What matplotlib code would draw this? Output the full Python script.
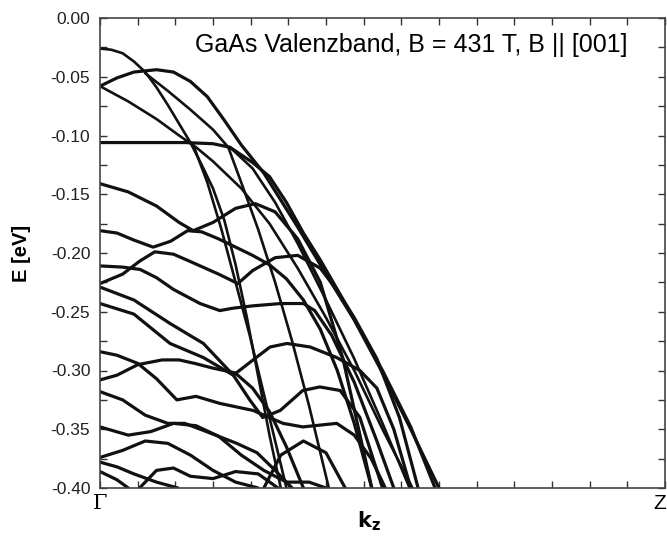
import matplotlib
matplotlib.use("Agg")
import matplotlib.pyplot as plt
from matplotlib.ticker import MultipleLocator

# ---- data: k_z (Gamma=0 ... Z=1) and energies in eV ----
band_a_k = [0, 0.02, 0.04, 0.06, 0.08, 0.10, 0.12, 0.14, 0.16, 0.18, 0.20, 0.22, 0.24, 0.26, 0.28, 0.30, 0.32]
band_a_e = [-0.026, -0.027, -0.030, -0.037, -0.046, -0.059, -0.074, -0.090, -0.106, -0.125, -0.145, -0.172, -0.210, -0.255, -0.305, -0.355, -0.40]

band_hump_k = [0, 0.03, 0.06, 0.10, 0.13, 0.16, 0.19, 0.22, 0.25, 0.29, 0.35, 0.40, 0.45, 0.50, 0.55, 0.60]
band_hump_e = [-0.058, -0.051, -0.046, -0.044, -0.046, -0.054, -0.067, -0.087, -0.108, -0.132, -0.178, -0.218, -0.257, -0.302, -0.350, -0.40]

band_flat_k = [0, 0.05, 0.10, 0.15, 0.20, 0.23, 0.27, 0.30, 0.33, 0.36, 0.39, 0.42, 0.46, 0.50, 0.55, 0.593]
band_flat_e = [-0.106, -0.106, -0.106, -0.106, -0.107, -0.110, -0.123, -0.135, -0.157, -0.183, -0.206, -0.231, -0.265, -0.300, -0.348, -0.40]

band_b2_k = [0, 0.05, 0.10, 0.14, 0.17, 0.20, 0.25, 0.30, 0.35, 0.40, 0.45, 0.50, 0.553]
band_b2_e = [-0.058, -0.071, -0.086, -0.100, -0.110, -0.122, -0.145, -0.175, -0.213, -0.255, -0.300, -0.350, -0.40]

band_s2_k = [0.08, 0.12, 0.16, 0.20, 0.227, 0.25, 0.28, 0.31, 0.34, 0.37, 0.405]
band_s2_e = [-0.047, -0.062, -0.078, -0.095, -0.110, -0.140, -0.180, -0.225, -0.275, -0.330, -0.40]

band_s3_k = [0.23, 0.27, 0.31, 0.35, 0.40, 0.45, 0.50, 0.548]
band_s3_e = [-0.110, -0.128, -0.157, -0.192, -0.240, -0.290, -0.345, -0.40]

band_141_k = [0, 0.05, 0.10, 0.14, 0.165, 0.20, 0.24, 0.275, 0.31, 0.35, 0.39, 0.43, 0.481]
band_141_e = [-0.141, -0.148, -0.160, -0.174, -0.181, -0.174, -0.162, -0.158, -0.165, -0.188, -0.225, -0.290, -0.40]

band_181_k = [0, 0.03, 0.06, 0.094, 0.125, 0.155, 0.18, 0.21, 0.24, 0.27, 0.30, 0.33, 0.36, 0.39, 0.42, 0.45, 0.481]
band_181_e = [-0.181, -0.183, -0.189, -0.195, -0.190, -0.181, -0.182, -0.188, -0.195, -0.202, -0.210, -0.222, -0.240, -0.265, -0.300, -0.345, -0.40]

band_226_k = [0, 0.04, 0.07, 0.097, 0.13, 0.168, 0.21, 0.244, 0.27, 0.31, 0.35, 0.39, 0.42, 0.45, 0.49, 0.53, 0.563]
band_226_e = [-0.226, -0.218, -0.207, -0.199, -0.201, -0.209, -0.218, -0.226, -0.215, -0.204, -0.202, -0.213, -0.232, -0.255, -0.290, -0.340, -0.40]

band_211_k = [0, 0.04, 0.071, 0.10, 0.13, 0.177, 0.212, 0.235, 0.27, 0.32, 0.36, 0.38, 0.41, 0.45, 0.49, 0.52]
band_211_e = [-0.211, -0.212, -0.214, -0.221, -0.231, -0.243, -0.249, -0.247, -0.245, -0.243, -0.243, -0.249, -0.270, -0.310, -0.360, -0.40]

band_229_k = [0, 0.06, 0.124, 0.183, 0.236, 0.271, 0.301, 0.331, 0.372, 0.419, 0.46, 0.49, 0.52, 0.55]
band_229_e = [-0.229, -0.240, -0.260, -0.277, -0.304, -0.291, -0.280, -0.277, -0.280, -0.289, -0.300, -0.315, -0.350, -0.40]

band_243_k = [0, 0.06, 0.124, 0.183, 0.236, 0.265, 0.288, 0.319, 0.359, 0.389, 0.425, 0.46, 0.50]
band_243_e = [-0.243, -0.252, -0.277, -0.289, -0.304, -0.325, -0.340, -0.334, -0.317, -0.314, -0.317, -0.340, -0.40]

band_284_k = [0, 0.03, 0.067, 0.10, 0.136, 0.17, 0.212, 0.271, 0.324, 0.359, 0.419, 0.45, 0.48, 0.505]
band_284_e = [-0.284, -0.287, -0.294, -0.307, -0.325, -0.322, -0.328, -0.334, -0.345, -0.348, -0.345, -0.355, -0.375, -0.40]

band_308_k = [0, 0.03, 0.067, 0.11, 0.14, 0.168, 0.20, 0.239, 0.27, 0.30, 0.33, 0.36]
band_308_e = [-0.308, -0.304, -0.295, -0.291, -0.291, -0.294, -0.298, -0.302, -0.315, -0.335, -0.365, -0.40]

band_318_k = [0, 0.04, 0.08, 0.12, 0.15, 0.183, 0.242, 0.278, 0.31, 0.34]
band_318_e = [-0.318, -0.325, -0.338, -0.345, -0.345, -0.351, -0.362, -0.370, -0.385, -0.40]

band_348_k = [0, 0.05, 0.09, 0.13, 0.17, 0.21, 0.25, 0.29, 0.33, 0.37, 0.40]
band_348_e = [-0.348, -0.355, -0.352, -0.345, -0.347, -0.356, -0.372, -0.385, -0.395, -0.395, -0.40]

band_374_k = [0, 0.04, 0.08, 0.12, 0.16, 0.20, 0.24, 0.28]
band_374_e = [-0.374, -0.368, -0.360, -0.362, -0.372, -0.385, -0.395, -0.40]

band_378_k = [0, 0.03, 0.06, 0.10, 0.138]
band_378_e = [-0.378, -0.382, -0.388, -0.395, -0.40]

band_386_k = [0, 0.03, 0.05]
band_386_e = [-0.386, -0.393, -0.40]

band_low1_k = [0.07, 0.10, 0.13, 0.16, 0.20, 0.24, 0.28, 0.315]
band_low1_e = [-0.40, -0.385, -0.383, -0.39, -0.392, -0.386, -0.388, -0.40]

band_low2_k = [0.29, 0.32, 0.36, 0.40, 0.434]
band_low2_e = [-0.40, -0.372, -0.360, -0.370, -0.40]

band_steep2_k = [0.165, 0.19, 0.215, 0.24, 0.265, 0.29, 0.31, 0.33]
band_steep2_e = [-0.108, -0.140, -0.180, -0.225, -0.270, -0.320, -0.360, -0.40]

heavy_k = [band_hump_k, band_flat_k, band_141_k, band_181_k, band_226_k, band_211_k,
           band_229_k, band_243_k, band_284_k, band_308_k, band_318_k, band_348_k,
           band_374_k, band_378_k, band_386_k, band_low1_k, band_low2_k]
heavy_e = [band_hump_e, band_flat_e, band_141_e, band_181_e, band_226_e, band_211_e,
           band_229_e, band_243_e, band_284_e, band_308_e, band_318_e, band_348_e,
           band_374_e, band_378_e, band_386_e, band_low1_e, band_low2_e]
light_k = [band_a_k, band_b2_k, band_s2_k, band_s3_k, band_steep2_k]
light_e = [band_a_e, band_b2_e, band_s2_e, band_s3_e, band_steep2_e]

title_text = "GaAs Valenzband, B = 431 T, B || [001]"
y_ticks = [0.00, -0.05, -0.10, -0.15, -0.20, -0.25, -0.30, -0.35, -0.40]

fig = plt.figure(figsize=(6.67, 5.36), dpi=100)
ax = fig.add_axes([100/667, 1 - 488/536, 565/667, 470/536])

for k, e in zip(heavy_k, heavy_e):
    ax.plot(k, e, color="#111111", lw=2.3, solid_capstyle="round", solid_joinstyle="round")
for k, e in zip(light_k, light_e):
    ax.plot(k, e, color="#111111", lw=1.9, solid_capstyle="round", solid_joinstyle="round")

ax.set_xlim(0, 1)
ax.set_ylim(-0.40, 0.0)
ax.set_yticks(y_ticks)
ax.set_yticklabels([f"{v:.2f}" for v in y_ticks], fontsize=12.5, family="Liberation Sans")
ax.yaxis.set_minor_locator(MultipleLocator(0.025))
ax.xaxis.set_major_locator(MultipleLocator(1/15))
ax.set_xticklabels([])
ax.tick_params(which="both", direction="in", top=True, right=True, length=5, width=1, colors="#333333")
ax.tick_params(axis="y", which="both", pad=7, labelcolor="#222222")
for s in ax.spines.values():
    s.set_linewidth(1.2)
    s.set_color("#444444")

ax.text(0, -0.012, "Γ", transform=ax.get_xaxis_transform(), ha="center", va="top",
        fontsize=15, family="DejaVu Serif")
ax.text(1.002, -0.012, "Z", transform=ax.get_xaxis_transform(), ha="right", va="top",
        fontsize=15, family="Liberation Sans")
ax.text(0.476, -0.045, r"$\mathbf{k}_{\mathbf{z}}$", transform=ax.transAxes, ha="center", va="top",
        fontsize=15)
ax.set_ylabel("E [eV]", fontsize=14.5, fontweight="bold", family="Liberation Sans", labelpad=14)
ax.text(0.933, 0.942, title_text, transform=ax.transAxes, ha="right", va="center",
        fontsize=18, family="Liberation Sans")

fig.savefig("out.png", dpi=100)
